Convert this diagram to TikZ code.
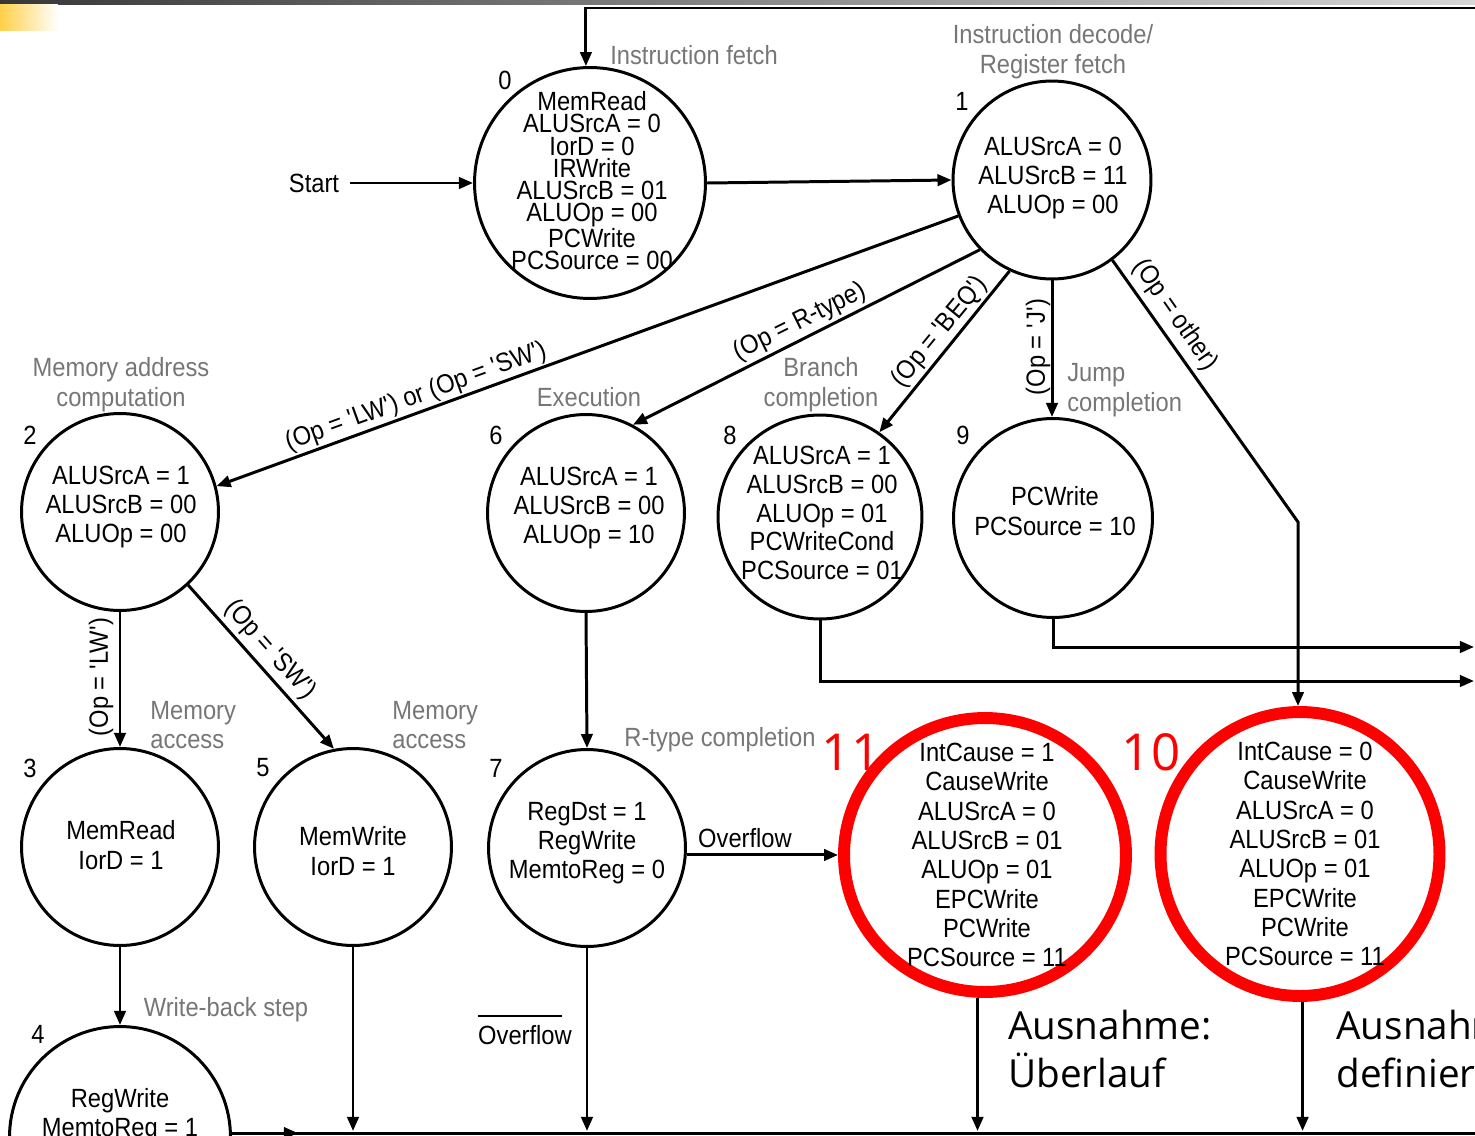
\documentclass[tikz,border=0pt]{standalone}
\usepackage{fontspec}
\setmainfont{Liberation Sans}[FakeStretch=0.9]
\newfontfamily\bigsans{Open Sans}
\usetikzlibrary{arrows.meta,shapes.geometric,calc}
\definecolor{phasegray}{RGB}{118,118,118}
\definecolor{hotred}{RGB}{255,0,0}
\definecolor{bannerY}{RGB}{255,208,72}
\definecolor{bannerDark}{RGB}{55,55,55}
\definecolor{bannerLight}{RGB}{215,215,215}
\begin{document}
\begin{tikzpicture}[x=0.02cm,y=-0.02cm,
  line/.style={line width=1.7pt},
  arrow/.style={line width=1.7pt,-{Triangle[length=8pt,width=6.5pt]}},
  state/.style={circle,draw,line width=1.7pt,inner sep=0pt,outer sep=0.85pt},
  exc/.style={ellipse,draw=hotred,line width=6.8pt,inner sep=0pt,outer sep=3.4pt},
  ctrl/.style={inner sep=0pt,align=center,font=\fontsize{15}{16.7}\selectfont},
  tight/.style={inner sep=0pt,align=center,font=\fontsize{15}{12.6}\selectfont},
  phase/.style={inner sep=0pt,align=center,text=phasegray,font=\fontsize{15}{17}\selectfont},
  cond/.style={inner sep=0pt,font=\fontsize{15}{17}\selectfont},
  num/.style={inner sep=0pt,font=\fontsize{15}{17}\selectfont},
  bignum/.style={inner sep=0pt,text=hotred,font=\bigsans\fontsize{29}{32}\selectfont},
  note/.style={inner sep=0pt,anchor=base west,font=\bigsans\fontsize{22}{27}\selectfont}
]
\useasboundingbox (0,0) rectangle (1475,1136);
\clip (0,0) rectangle (1475,1136);

% slide banner
\shade[left color=bannerDark,right color=bannerLight] (0,0) rectangle (1475,4);
\shade[left color=bannerY,right color=white] (0,4) rectangle (58,30);

% ---------- states ----------
\node[state,minimum size=4.62cm] (s0) at (590,183) {};
\node[tight] (t0) at (592,181) {MemRead\\ALUSrcA = 0\\IorD = 0\\IRWrite\\ALUSrcB = 01\\ALUOp = 00\\PCWrite\\PCSource = 00};

\node[state,minimum size=3.96cm] (s1) at (1052,180) {};
\node[ctrl] (t1) at (1053,178) {ALUSrcA = 0\\ALUSrcB = 11\\ALUOp = 00};

\node[state,minimum size=3.94cm] (s2) at (120,512) {};
\node[ctrl] (t2) at (121,507) {ALUSrcA = 1\\ALUSrcB = 00\\ALUOp = 00};

\node[state,minimum size=3.94cm] (s6) at (586,513) {};
\node[ctrl] (t6) at (589,508) {ALUSrcA = 1\\ALUSrcB = 00\\ALUOp = 10};

\node[state,minimum size=4.08cm] (s8) at (820,517) {};
\node[ctrl,font=\fontsize{15}{16.4}\selectfont] (t8) at (822,513) {ALUSrcA = 1\\ALUSrcB = 00\\ALUOp = 01\\PCWriteCond\\PCSource = 01};

\node[state,minimum size=3.98cm] (s9) at (1053,518) {};
\node[ctrl] (t9) at (1055,511) {PCWrite\\PCSource = 10};

\node[state,minimum size=3.94cm] (s3) at (120,847) {};
\node[ctrl] (t3) at (121,845) {MemRead\\IorD = 1};

\node[state,minimum size=3.94cm] (s5) at (353,847) {};
\node[ctrl] (t5) at (353,851) {MemWrite\\IorD = 1};

\node[state,minimum size=3.94cm] (s7) at (587,848) {};
\node[ctrl,font=\fontsize{15}{16.4}\selectfont] (t7) at (587,843) {RegDst = 1\\RegWrite\\MemtoReg = 0};

\node[state,minimum size=4.42cm] (s4) at (120,1137) {};
\node[ctrl] (t4) at (120,1115) {RegWrite\\MemtoReg = 1};

% exception states
\node[exc,minimum width=5.64cm,minimum height=5.48cm] (s11) at (985,855) {};
\node[ctrl] (t11) at (987,855) {IntCause = 1\\CauseWrite\\ALUSrcA = 0\\ALUSrcB = 01\\ALUOp = 01\\EPCWrite\\PCWrite\\PCSource = 11};

\node[exc,minimum width=5.58cm,minimum height=5.68cm] (s10) at (1300,854) {};
\node[ctrl] (t10) at (1305,854) {IntCause = 0\\CauseWrite\\ALUSrcA = 0\\ALUSrcB = 01\\ALUOp = 01\\EPCWrite\\PCWrite\\PCSource = 11};

% state numbers
\node[num] (n0) at (505,80) {0};
\node[num] (n1) at (962,101) {1};
\node[num] (n2) at (30,435) {2};
\node[num] (n6) at (496,435) {6};
\node[num] (n8) at (730,435) {8};
\node[num] (n9) at (963,435) {9};
\node[num] (n3) at (30,768) {3};
\node[num] (n5) at (263,768) {5};
\node[num] (n7) at (496,768) {7};
\node[num] (n4) at (38,1034) {4};
\node[bignum] (n11) at (851,752) {11};
\node[bignum] (n10) at (1151,752) {10};

% phase captions
\node[phase] (ph0) at (694,55) {Instruction fetch};
\node[phase] (ph1) at (1053,52) {Instruction decode/\\Register fetch};
\node[phase] (ph2) at (121,385) {Memory address\\computation};
\node[phase] (ph6) at (589,397) {Execution};
\node[phase] (ph8) at (821,385) {Branch\\completion};
\node[phase,anchor=west,align=left] (ph9) at (1067,390) {Jump\\completion};
\node[phase,anchor=west,align=left] (ph3) at (150,725) {Memory\\access};
\node[phase,anchor=west,align=left] (ph5) at (392,725) {Memory\\access};
\node[phase] (ph7) at (720,740) {R-type completion};
\node[phase] (ph4) at (226,1010) {Write-back step};

% exception notes
\node[note] (a1) at (1008,1039) {Ausnahme:};
\node[note] (a2) at (1008,1087) {Überlauf};
\node[note] (b1) at (1336,1039) {Ausnahme:};
\node[note] (b2) at (1336,1087) {definiert};

% ---------- transitions ----------
\node[cond] (start) at (314,183) {Start};
\draw[arrow] ([xshift=6pt]start.east) -- (s0.west);
\draw[arrow] (s0.east) -- (s1.west);

\coordinate (topr) at (1475,8);
\draw[arrow] (topr) -- (topr -| s0.92) -- (s0.92);

\draw[arrow] (s1.201.5) -- (s2.15.3);
\draw[arrow] (s1.224.2) -- (s6.62.4);
\draw[arrow] (s1.245.5) -- (s8.55.4);
\draw[arrow] (s1.south) -- (s1.south |- s9.north);
\coordinate (oth) at (1298,522);
\draw[arrow] (s1.307.5) -- (oth) -- (oth |- s10.north);

\draw[arrow] (s2.south) -- (s3.north);
\draw[arrow] (s2.313.8) -- (s5.101);
\draw[arrow] (s6.south) -- (s7.north);
\draw[arrow] (s3.south) -- (s4.north);
\draw[arrow] (s7.-4) -- (s7.-4 -| s11.west);

\coordinate (e9) at (1474,647);
\coordinate (e8) at (1474,681);
\draw[arrow] (s9.south) -- (s9.south |- e9) -- (e9);
\draw[arrow] (s8.south) -- (s8.south |- e8) -- (e8);

\coordinate (bot) at (0,1131);
\draw[arrow] (s5.south) -- (s5.south |- bot);
\draw[arrow] (s7.south) -- (s7.south |- bot);
\draw[arrow] (s11.267) -- (s11.267 |- bot);
\draw[arrow] (s10.271) -- (s10.271 |- bot);
\coordinate (bmid) at (298,1133);
\coordinate (bend) at (1475,1133);
\draw[line] (s4.2) -- (s4.2 -| bend);
\draw[arrow] (s4.2) -- (s4.2 -| bmid);

% transition conditions
\node[cond,rotate=19.9] (clwsw) at (416,397) {(Op = \textquotesingle LW\textquotesingle) or (Op = \textquotesingle SW\textquotesingle)};
\node[cond,rotate=26.4] (crt) at (800,322) {(Op = R-type)};
\node[cond,rotate=50.6] (cbeq) at (940,332) {(Op = \textquotesingle BEQ\textquotesingle)};
\node[cond,rotate=90] (cj) at (1038,347) {(Op = \textquotesingle J\textquotesingle)};
\node[cond,rotate=-55] (coth) at (1175,315) {(Op = other)};
\node[cond,rotate=90] (clw) at (101,677) {(Op = \textquotesingle LW\textquotesingle)};
\node[cond,rotate=-48.4] (csw) at (270,650) {(Op = \textquotesingle SW\textquotesingle)};

\node[cond] (ovf) at (745,838) {Overflow};
\node[cond] (novf) at (525,1035) {Overflow};
\draw[line width=1.3pt] ($(novf.north west)+(0,-9)$) -- ($(novf.north east)+(-10,-9)$);
\end{tikzpicture}
\end{document}
